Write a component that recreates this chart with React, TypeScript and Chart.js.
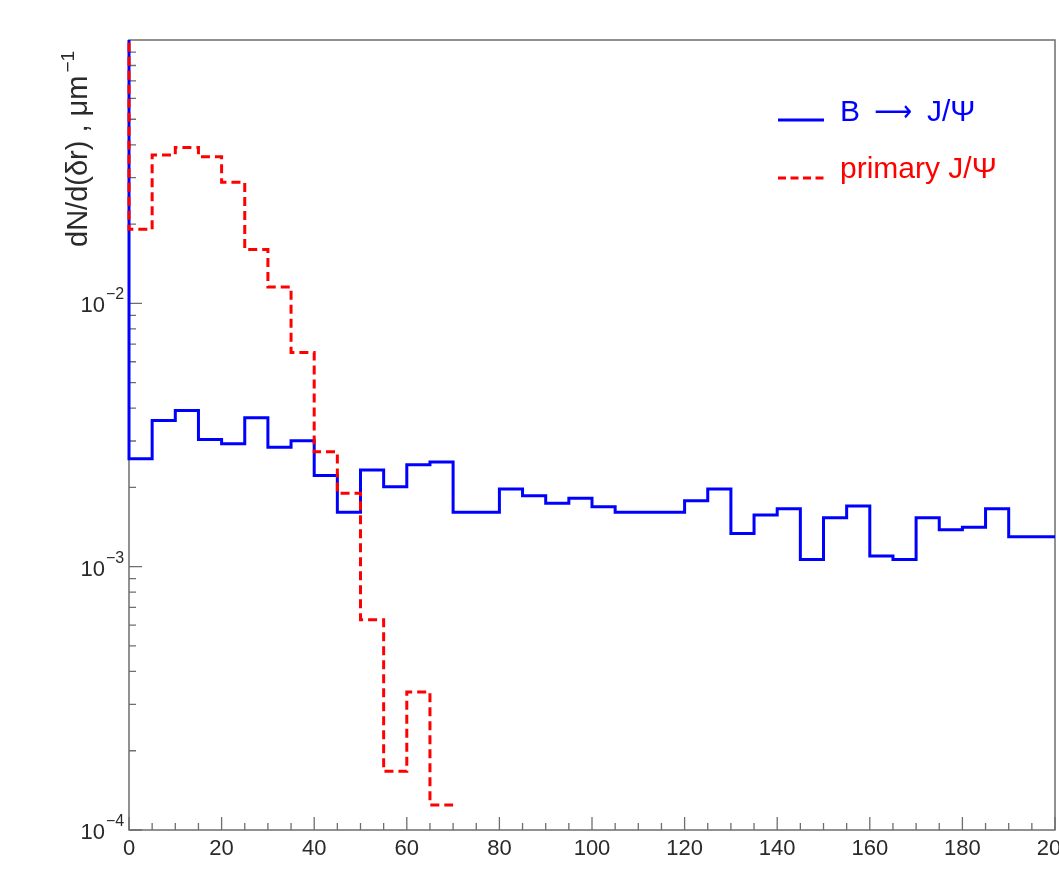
import React, { useEffect, useRef } from 'react';
import { Chart, registerables } from 'chart.js';

Chart.register(...registerables);

// ---------- data ----------
const binEdges = [
  0, 5, 10, 15, 20, 25, 30, 35, 40, 45, 50, 55, 60, 65, 70, 75, 80, 85, 90, 95, 100,
  105, 110, 115, 120, 125, 130, 135, 140, 145, 150, 155, 160, 165, 170, 175, 180, 185, 190, 195, 200,
];

// B -> J/psi, dN/d(dr) per 5 um bin
const bToJpsi = [
  2.57e-3, 3.59e-3, 3.92e-3, 3.04e-3, 2.93e-3, 3.68e-3, 2.84e-3, 3.01e-3, 2.22e-3, 1.61e-3,
  2.33e-3, 2.01e-3, 2.44e-3, 2.5e-3, 1.61e-3, 1.61e-3, 1.97e-3, 1.86e-3, 1.74e-3, 1.82e-3,
  1.69e-3, 1.61e-3, 1.61e-3, 1.61e-3, 1.78e-3, 1.97e-3, 1.335e-3, 1.57e-3, 1.66e-3, 1.064e-3,
  1.535e-3, 1.7e-3, 1.098e-3, 1.064e-3, 1.535e-3, 1.38e-3, 1.41e-3, 1.66e-3, 1.3e-3, 1.3e-3,
];

// primary J/psi
const primaryJpsi = [
  0.0191, 0.0366, 0.0391, 0.036, 0.0288, 0.016, 0.01153, 0.00651, 0.00273, 0.0019,
  6.29e-4, 1.67e-4, 3.34e-4, 1.245e-4, 0, 0, 0, 0, 0, 0,
  0, 0, 0, 0, 0, 0, 0, 0, 0, 0,
  0, 0, 0, 0, 0, 0, 0, 0, 0, 0,
];

// underflow content (off scale, above the frame)
const bToJpsiUnderflow = 1;
const primaryJpsiUnderflow = 1;

const xMin = 0;
const xMax = 200;
const yMin = 1e-4;
const yMax = 1e-1;

const xMajorTicks = [0, 20, 40, 60, 80, 100, 120, 140, 160, 180, 200];
const xTickLabels = ['0', '20', '40', '60', '80', '100', '120', '140', '160', '180', '200'];
const xMinorTicks = [
  5, 10, 15, 25, 30, 35, 45, 50, 55, 65, 70, 75, 85, 90, 95, 105, 110, 115, 125, 130, 135,
  145, 150, 155, 165, 170, 175, 185, 190, 195,
];
const yMajorTicks = [1e-4, 1e-3, 1e-2];
const yTickBase = ['10', '10', '10'];
const yTickExp = ['\u22124', '\u22123', '\u22122'];
const yMinorTicks = [
  2e-4, 3e-4, 4e-4, 5e-4, 6e-4, 7e-4, 8e-4, 9e-4,
  2e-3, 3e-3, 4e-3, 5e-3, 6e-3, 7e-3, 8e-3, 9e-3,
  2e-2, 3e-2, 4e-2, 5e-2, 6e-2, 7e-2, 8e-2, 9e-2,
];

const legendLabelB = ['B', '\u27F6', 'J/\u03A8'];
const legendLabelPrimary = 'primary J/\u03A8';
const yTitle = 'dN/d(\u03B4r) , \u03BCm';
const yTitleExp = '\u22121';

const BLUE = '#0000ff';
const RED = '#ff0000';
const AXIS = '#6e6e6e';
const TEXT = '#2a2a2a';
const FONT = '"Liberation Sans", Arial, sans-serif';

function histPoints(values: number[], underflow: number) {
  const pts: { x: number; y: number }[] = [{ x: binEdges[0], y: underflow }];
  for (let i = 0; i < values.length; i++) {
    const v = values[i];
    if (v === 0) {
      // drop to the bottom of the frame, then stop
      pts.push({ x: binEdges[i], y: 0 });
      break;
    }
    pts.push({ x: binEdges[i], y: v });
    pts.push({ x: binEdges[i + 1], y: v });
  }
  return pts;
}

const frameBeforePlugin = {
  id: 'rootFrame',
  beforeDatasetsDraw(chart: any) {
    const { ctx, chartArea: a, scales } = chart;
    const xs = scales.x;
    const ys = scales.y;
    ctx.save();
    ctx.strokeStyle = AXIS;
    ctx.lineWidth = 1.5;
    ctx.beginPath();
    ctx.rect(a.left, a.top, a.right - a.left, a.bottom - a.top);
    ctx.stroke();
    ctx.lineWidth = 1.3;
    ctx.beginPath();
    for (const t of xMajorTicks) {
      const px = xs.getPixelForValue(t);
      ctx.moveTo(px, a.bottom);
      ctx.lineTo(px, a.bottom - 13);
    }
    for (const t of xMinorTicks) {
      const px = xs.getPixelForValue(t);
      ctx.moveTo(px, a.bottom);
      ctx.lineTo(px, a.bottom - 7);
    }
    for (const t of yMajorTicks) {
      const py = ys.getPixelForValue(t);
      ctx.moveTo(a.left, py);
      ctx.lineTo(a.left + 13, py);
    }
    for (const t of yMinorTicks) {
      const py = ys.getPixelForValue(t);
      ctx.moveTo(a.left, py);
      ctx.lineTo(a.left + 7, py);
    }
    ctx.stroke();
    ctx.restore();
  },
  afterDraw(chart: any) {
    const { ctx, chartArea: a, scales } = chart;
    const xs = scales.x;
    const ys = scales.y;
    ctx.save();
    ctx.fillStyle = TEXT;
    // x tick labels
    ctx.font = `22px ${FONT}`;
    ctx.textAlign = 'center';
    ctx.textBaseline = 'alphabetic';
    xMajorTicks.forEach((t, i) => {
      ctx.fillText(xTickLabels[i], xs.getPixelForValue(t), a.bottom + 25);
    });
    // y tick labels 10^-n
    yMajorTicks.forEach((t, i) => {
      const py = ys.getPixelForValue(t);
      ctx.font = `22px ${FONT}`;
      ctx.textAlign = 'right';
      ctx.fillText(yTickBase[i], a.left - 24, py + 9);
      ctx.font = `16px ${FONT}`;
      ctx.textAlign = 'left';
      ctx.fillText(yTickExp[i], a.left - 23, py - 4);
    });
    // y title
    ctx.save();
    ctx.translate(a.left - 42, 247);
    ctx.rotate(-Math.PI / 2);
    ctx.font = `29px ${FONT}`;
    ctx.textAlign = 'left';
    ctx.fillText(yTitle, 0, 0);
    const w = ctx.measureText(yTitle).width;
    ctx.font = `19px ${FONT}`;
    ctx.fillText(yTitleExp, w + 3, -13);
    ctx.restore();

    // legend
    ctx.lineWidth = 3;
    ctx.strokeStyle = BLUE;
    ctx.beginPath();
    ctx.moveTo(778, 120);
    ctx.lineTo(824, 120);
    ctx.stroke();
    ctx.fillStyle = BLUE;
    ctx.font = `30px ${FONT}`;
    ctx.textAlign = 'left';
    ctx.fillText(legendLabelB[0], 840, 121);
    ctx.fillText(legendLabelB[2], 927, 121);
    // arrow, stretched to the width seen in the reference
    ctx.save();
    ctx.font = `30px "DejaVu Sans", ${FONT}`;
    const aw = ctx.measureText(legendLabelB[1]).width || 1;
    ctx.translate(874, 121);
    ctx.scale(38 / aw, 1);
    ctx.fillText(legendLabelB[1], 0, 0);
    ctx.restore();

    ctx.strokeStyle = RED;
    ctx.setLineDash([8, 4.5]);
    ctx.beginPath();
    ctx.moveTo(778, 178);
    ctx.lineTo(824, 178);
    ctx.stroke();
    ctx.setLineDash([]);
    ctx.fillStyle = RED;
    ctx.font = `30px ${FONT}`;
    ctx.fillText(legendLabelPrimary, 840, 178);
    ctx.restore();
  },
};

export default function App() {
  const canvasRef = useRef<HTMLCanvasElement | null>(null);

  useEffect(() => {
    document.body.style.margin = '0';
    const canvas = canvasRef.current;
    if (!canvas) return;
    const chart = new Chart(canvas, {
      type: 'line',
      data: {
        datasets: [
          {
            label: 'primary J/\u03A8',
            data: histPoints(primaryJpsi, primaryJpsiUnderflow),
            borderColor: RED,
            borderWidth: 3,
            borderDash: [9, 5],
            pointRadius: 0,
            fill: false,
            tension: 0,
            clip: { left: 5, top: 0, right: 5, bottom: 5 } as any,
          },
          {
            label: 'B \u2192 J/\u03A8',
            data: histPoints(bToJpsi, bToJpsiUnderflow),
            borderColor: BLUE,
            borderWidth: 3,
            pointRadius: 0,
            fill: false,
            tension: 0,
            clip: { left: 5, top: 0, right: 5, bottom: 5 } as any,
          },
        ],
      },
      options: {
        responsive: false,
        animation: false,
        events: [],
        layout: { padding: { top: 40, right: 4, left: 0, bottom: 0 } },
        plugins: {
          legend: { display: false },
          tooltip: { enabled: false },
          title: { display: false },
        },
        scales: {
          x: {
            type: 'linear',
            min: xMin,
            max: xMax,
            grid: { display: false },
            border: { display: false },
            ticks: { display: false },
            afterFit: (s: any) => {
              s.height = 43;
            },
          },
          y: {
            type: 'logarithmic',
            min: yMin,
            max: yMax,
            grid: { display: false },
            border: { display: false },
            ticks: { display: false },
            afterFit: (s: any) => {
              s.width = 129;
            },
          },
        },
      },
      plugins: [frameBeforePlugin],
    });
    return () => chart.destroy();
  }, []);

  return (
    <div style={{ width: 1059, height: 873, background: '#fff' }}>
      <canvas ref={canvasRef} width={1059} height={873} style={{ display: 'block' }} />
    </div>
  );
}
